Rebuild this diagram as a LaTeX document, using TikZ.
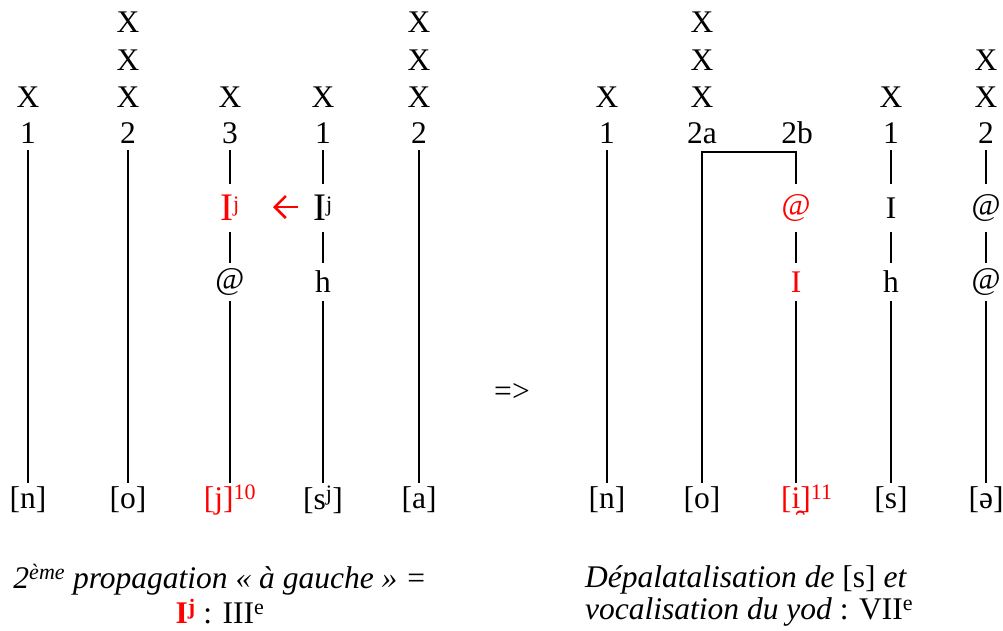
\documentclass[tikz,border=0pt]{standalone}
\usepackage{fontspec}
\setmainfont{Liberation Serif}
\usetikzlibrary{arrows.meta}
\begin{document}
\begin{tikzpicture}[x=1pt,y=-1pt,
  every node/.style={font=\fontsize{31.5}{36}\selectfont, inner sep=0pt},
  lbl/.style={minimum height=34pt},
  mid/.style={minimum height=48pt},
  low/.style={minimum height=38pt},
  seg/.style={line width=1.8pt},
  hl/.style={text=red}]
\useasboundingbox (0,0) rectangle (1003,630);

% ---------- left diagram ----------
% column a
\node (aX1) at (28,97) {X};
\node[lbl] (an) at (28,133) {1};
\node[lbl] (ab) at (28,500) {[n]};
\draw[seg] (an) -- (ab);
% column b
\node (bX3) at (128,22) {X};
\node (bX2) at (128,60) {X};
\node (bX1) at (128,97) {X};
\node[lbl] (bn) at (128,133) {2};
\node[lbl] (bb) at (128,500) {[o]};
\draw[seg] (bn) -- (bb);
% column c
\node (cX1) at (230,97) {X};
\node[lbl] (cn) at (230,133) {3};
\node[mid,hl] (cI) at (230,208) {{\fontsize{39}{39}\selectfont I}\textsuperscript{j}};
\node[low] (cA) at (230,282) {@};
\node[lbl,hl] (cb) at (230,500) {[j]\textsuperscript{10}};
\draw[seg] (cn) -- (cI);
\draw[seg] (cI) -- (cA);
\draw[seg] (cA) -- (cb);
% column d
\node (dX1) at (323,97) {X};
\node[lbl] (dn) at (323,133) {1};
\node[mid] (dI) at (323,208) {{\fontsize{39}{39}\selectfont I}\textsuperscript{j}};
\node[low] (dh) at (323,282) {h};
\node[lbl] (db) at (323,500) {[s\textsuperscript{j}]};
\draw[seg] (dn) -- (dI);
\draw[seg] (dI) -- (dh);
\draw[seg] (dh) -- (db);
% column e
\node (eX3) at (419,22) {X};
\node (eX2) at (419,60) {X};
\node (eX1) at (419,97) {X};
\node[lbl] (en) at (419,133) {2};
\node[lbl] (eb) at (419,500) {[a]};
\draw[seg] (en) -- (eb);
% red arrow
\coordinate (arS) at (298,207);
\coordinate (arE) at (273,207);
\draw[red, line width=2.6pt, -{Straight Barb[length=11pt,width=22pt]}] (arS) -- (arE);

% implication
\node (impl) at (512,392) {=>};

% ---------- right diagram ----------
% column f
\node (fX1) at (607,97) {X};
\node[lbl] (fn) at (607,133) {1};
\node[lbl] (fb) at (607,500) {[n]};
\draw[seg] (fn) -- (fb);
% column g
\node (gX3) at (702,22) {X};
\node (gX2) at (702,60) {X};
\node (gX1) at (702,97) {X};
\node[lbl] (gn) at (702,133) {2a};
\node[lbl] (gb) at (702,500) {[o]};
% column h
\node[lbl] (hn) at (797,133) {2b};
\node[mid,hl] (hA) at (796,208) {@};
\node[low,hl] (hI) at (796,282) {I};
\node[lbl,hl] (hb) at (796,500) {[i̯]\rlap{\textsuperscript{11}}};
\coordinate (bk) at (702,152);
\draw[seg] (gb) -- (bk) -| (hA);
\draw[seg] (hA) -- (hI);
\draw[seg] (hI) -- (hb);
% column i
\node (iX1) at (891,97) {X};
\node[lbl] (in) at (891,133) {1};
\node[mid] (iI) at (891,208) {I};
\node[low] (ih) at (891,282) {h};
\node[lbl] (ib) at (891,500) {[s]};
\draw[seg] (in) -- (iI);
\draw[seg] (iI) -- (ih);
\draw[seg] (ih) -- (ib);
% column j
\node (jX2) at (986,60) {X};
\node (jX1) at (986,97) {X};
\node[lbl] (jn) at (986,133) {2};
\node[mid] (jA) at (986,208) {@};
\node[low] (jB) at (986,282) {@};
\node[lbl] (jb) at (986,500) {[ə]};
\draw[seg] (jn) -- (jA);
\draw[seg] (jA) -- (jB);
\draw[seg] (jB) -- (jb);

% ---------- captions ----------
\node (capL1) at (220,580) {\itshape 2\textsuperscript{ème} propagation « à gauche » =};
\node (capL2) at (220,612) {\textcolor{red}{\bfseries I\textsuperscript{j}} : III\textsuperscript{e}};
\node[anchor=west] (capR1) at (585,580) {\textit{Dépalatalisation de} [s] \textit{et}};
\node[anchor=west] (capR2) at (585,612) {\textit{vocalisation du yod} : VII\textsuperscript{e}};
\end{tikzpicture}
\end{document}
